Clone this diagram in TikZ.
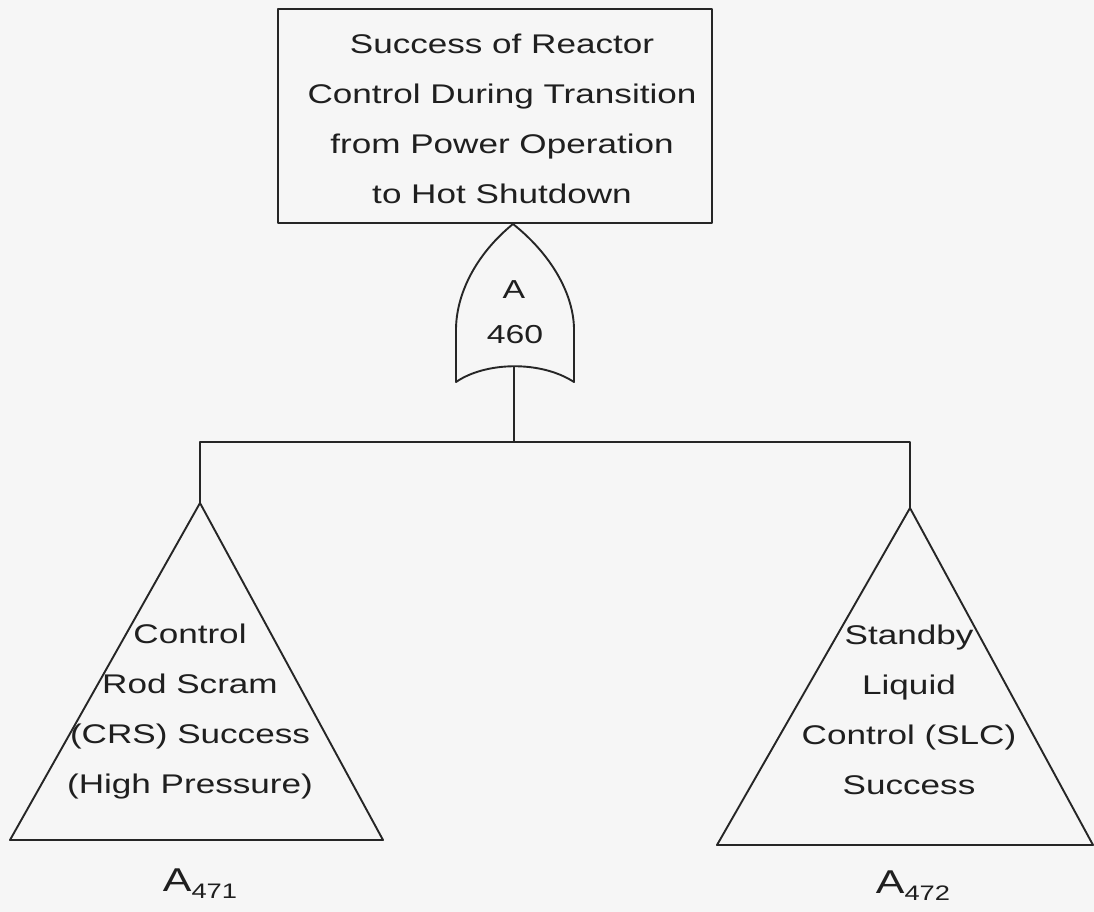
\documentclass[tikz,border=0pt]{standalone}
\usepackage{fontspec}
\setmainfont[FakeStretch=1.3]{Liberation Sans}
\begin{document}
\begin{tikzpicture}[x=1pt,y=-1pt,
  ink/.style={draw=black!85, line width=1.9pt, line join=round},
  hand/.style={font=\fontsize{27}{50}\selectfont, text=black!88, align=center},
  tag/.style={font=\fontsize{33}{38}\selectfont, text=black!88}]
  % paper
  \fill[gray!7] (0,0) rectangle (1094,912);
  \useasboundingbox (0,0) rectangle (1094,912);

  % top event
  \node[ink, minimum width=434pt, minimum height=214pt, inner sep=0pt] (top) at (495,116) {};
  \node[hand] (toptext) at (502,119) {Success of Reactor\\Control During Transition\\from Power Operation\\to Hot Shutdown};

  % OR gate A460
  \coordinate (gin) at (513,224);
  \coordinate (gout) at (514,367);
  \draw[ink] (gin) .. controls (475,255) and (456,295) .. (456,330) -- (456,382)
    .. controls (485,362) and (540,360) .. (574,382) -- (574,330)
    .. controls (574,295) and (552,255) .. (gin);
  \node[hand, font=\fontsize{26}{30}\selectfont] (gA) at (514,290) {A};
  \node[hand, font=\fontsize{26}{30}\selectfont] (gN) at (515,335) {460};

  % transfer triangles
  \coordinate (lapex) at (200,503);
  \coordinate (rapex) at (910,508);
  \draw[ink] (lapex) -- (383,840) -- (10,840) -- cycle;
  \draw[ink] (rapex) -- (1093,845) -- (717,845) -- cycle;
  \node[hand] (ltext) at (190,712) {Control\\Rod Scram\\(CRS) Success\\(High Pressure)};
  \node[hand] (rtext) at (909,710) {Standby\\Liquid\\Control (SLC)\\Success};
  \node[tag] (lname) at (200,884) {A\raisebox{-0.4ex}{\fontsize{21}{24}\selectfont 471}};
  \node[tag] (rname) at (913,886) {A\raisebox{-0.4ex}{\fontsize{21}{24}\selectfont 472}};

  % connectors
  \coordinate (bus) at (514,442);
  \draw[ink] (gout) -- (bus);
  \draw[ink] (lapex) |- (bus) -| (rapex);
\end{tikzpicture}
\end{document}
